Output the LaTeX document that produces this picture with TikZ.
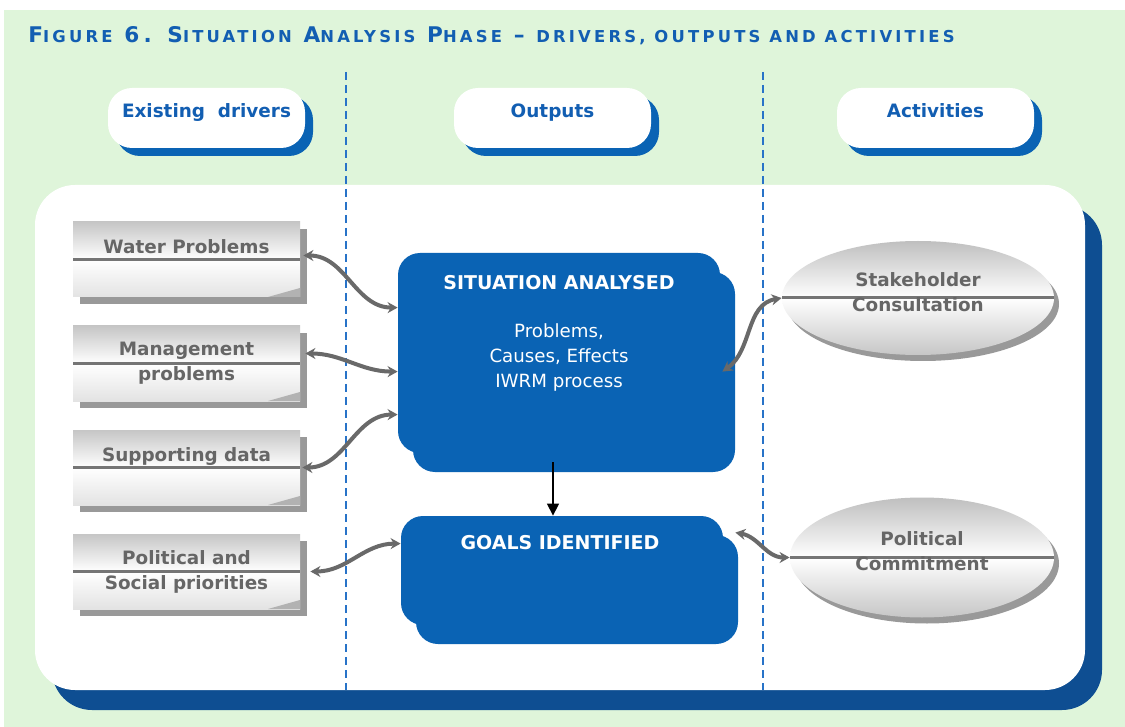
\documentclass[tikz,border=0pt]{standalone}
\usepackage{fontspec}
\setmainfont{DejaVu Sans}
\usetikzlibrary{shapes.geometric, arrows.meta, positioning, shadows, calc}
\definecolor{bgGreen}{RGB}{223,245,218}
\definecolor{titleBlue}{RGB}{18,94,178}
\definecolor{blobBlue}{RGB}{10,99,180}
\definecolor{panelNavy}{RGB}{14,78,146}
\definecolor{dashBlue}{RGB}{40,115,200}
\definecolor{labelGray}{RGB}{102,102,102}
\definecolor{linkGray}{RGB}{105,105,105}
\newcommand{\lblfont}{\fontsize{9.2}{12.5}\selectfont\bfseries}
\newcommand{\bodyfont}{\fontsize{9.1}{12.5}\selectfont}
\newcommand{\titlefont}{\fontsize{10.8}{13}\selectfont\bfseries\addfontfeature{LetterSpace=19.5}}
\newcommand{\smc}[1]{{\fontsize{8.2}{13}\selectfont #1}}
\tikzstyle{header} = [rectangle, rounded corners=12pt, minimum width=98.5pt, minimum height=30pt, fill=white, text=titleBlue, font=\lblfont, text depth=7.5pt, drop shadow={shadow xshift=4pt, shadow yshift=-4pt, fill=blobBlue, opacity=1}]
\tikzstyle{panel} = [rectangle, rounded corners=20pt, minimum width=525pt, minimum height=252.5pt, fill=white, drop shadow={shadow xshift=8.5pt, shadow yshift=-10pt, fill=panelNavy, opacity=1}]
\tikzstyle{driver} = [rectangle, minimum width=113.5pt, minimum height=37.5pt, align=center, text=labelGray, font=\lblfont, top color=gray!45, bottom color=gray!22, middle color=white, drop shadow={shadow xshift=3.5pt, shadow yshift=-3.5pt, fill=gray!80, opacity=1}, path picture={
  \draw[labelGray!90, line width=1.3pt] (path picture bounding box.west) -- (path picture bounding box.east);
  \fill[gray!60] ($(path picture bounding box.south east)+(-16pt,0)$) -- ($(path picture bounding box.south east)+(0,4.5pt)$) -- (path picture bounding box.south east) -- cycle;}]
\tikzstyle{activity} = [ellipse, minimum width=136pt, minimum height=57pt, align=center, text=labelGray, font=\lblfont, top color=gray!50, bottom color=gray!45, middle color=white, drop shadow={shadow xshift=2.5pt, shadow yshift=-3pt, fill=gray!80, opacity=1}, path picture={
  \draw[labelGray!90, line width=1.5pt] (path picture bounding box.west) -- (path picture bounding box.east);}]
\tikzstyle{blob} = [rectangle, rounded corners=11pt, fill=blobBlue, general shadow={shadow xshift=7.5pt, shadow yshift=-9.5pt, fill=blobBlue}]
\tikzstyle{blobtext} = [text=white, align=center]
\tikzstyle{link} = [draw=linkGray, line width=2pt, <->, >={Stealth[length=5pt,width=5.5pt]}]
\tikzstyle{flow} = [line width=0.7pt, ->, >={Triangle[length=6pt,width=6pt]}]
\tikzstyle{sep} = [dashBlue, line width=0.8pt, dash pattern=on 4pt off 2.5pt]

\begin{document}
\begin{tikzpicture}[x=0.5pt, y=0.5pt, node distance=52pt]
\useasboundingbox (0,0) rectangle (1125,-727);
\fill[bgGreen] (4,-10) rectangle (1125,-727);
% Title
\node (title) [anchor=base west, text=titleBlue, font=\titlefont, inner sep=0pt] at (28,-43) {F\smc{IGURE} 6. S\smc{ITUATION} A\smc{NALYSIS} P\smc{HASE} -- \smc{DRIVERS, OUTPUTS AND ACTIVITIES}};
% Column headers
\node (hDrivers) [header] at (206.5,-118) {Existing~~drivers};
\node (hOutputs) [header] at (552.5,-118) {Outputs};
\node (hActivities) [header] at (935.5,-118) {Activities};
% Panel and column separators
\node (board) [panel] at (560,-437.5) {};
\draw [sep] (346,-72) -- (346,-690);
\draw [sep] (763,-72) -- (763,-690);
% Drivers
\node (wp) [driver] at (186.5,-259.5) {Water Problems\\\mbox{}};
\node (mp) [driver, below of=wp] {Management\\problems};
\node (sd) [driver, below of=mp] {Supporting data\\\mbox{}};
\node (ps) [driver, below of=sd] {Political and\\Social priorities};
% Outputs
\node (sa) [blob, minimum width=161pt, minimum height=100pt] at (559,-353) {};
\node (saTitle) [blobtext, font=\fontsize{9.5}{12.5}\selectfont\bfseries] at ($(sa.north)+(0,-30)$) {SITUATION ANALYSED};
\node (saBody) [blobtext, font=\bodyfont] at ($(sa.north)+(0,-105)$) {Problems,\\Causes, Effects\\IWRM process};
\node (ga) [blob, minimum width=161pt, minimum height=54.5pt] at (562,-570.5) {};
\node (gaTitle) [blobtext, font=\fontsize{9.5}{12.5}\selectfont\bfseries] at ($(ga.north)+(-2,-27)$) {GOALS IDENTIFIED};
% Activities
\node (stk) [activity, text depth=6pt] at (918,-298) {Stakeholder\\Consultation};
\node (pc) [activity, minimum width=132pt, minimum height=60pt, text depth=6pt] at (922,-557.5) {Political\\Commitment};
% Connectors
\draw [flow] ($(sa.south)+(-6,-9)$) -- ($(ga.north)+(-9,0)$);
\draw [link] ($(wp.east)+(3,4)$) to[out=0, in=180] ($(sa.north west)+(0,-55)$);
\draw [link] ($(mp.east)+(5,10)$) to[out=0, in=180] ($(sa.north west)+(0,-119)$);
\draw [link] ($(sd.east)+(2,0)$) to[out=0, in=180] ($(sa.north west)+(0,-162)$);
\draw [link] ($(ps.east)+(10,0)$) to[out=0, in=180] ($(ga.north west)+(0,-28)$);
\draw [link] ($(sa.north east)+(2,-119)$) to[out=35, in=190] (stk.west);
\draw [link] ($(ga.north east)+(12,-17)$) to[out=-10, in=180] (pc.west);
\end{tikzpicture}
\end{document}
